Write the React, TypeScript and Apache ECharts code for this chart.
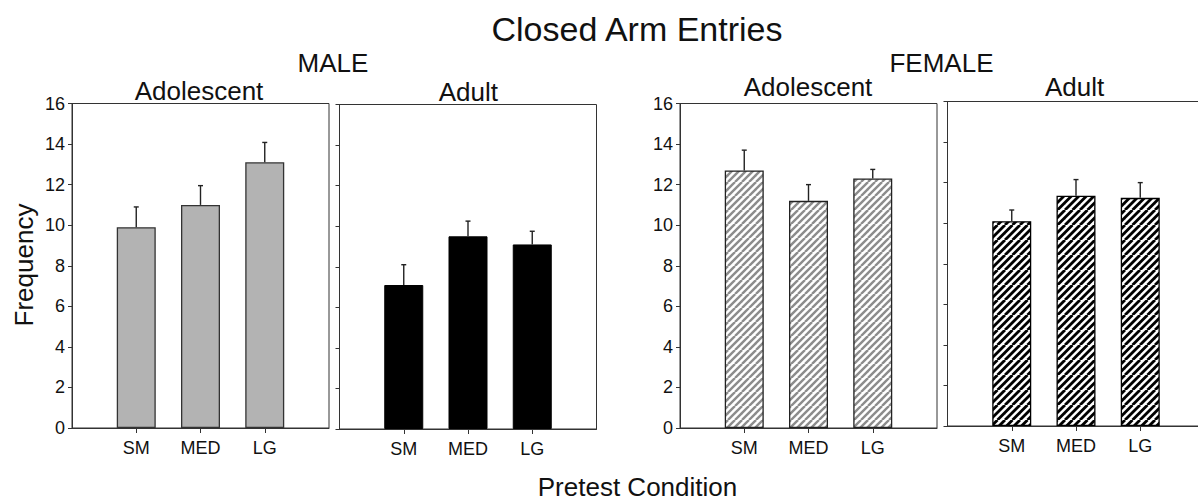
import React, { useEffect, useRef } from 'react';
import * as echarts from 'echarts';

// Pretest conditions and y-axis scale
const categories = ['SM', 'MED', 'LG'];
const yMin = 0;
const yMax = 16;
const yStep = 2;

// Mean closed arm entries and SEM per group
const maleAdolescentMeans = [9.9, 11.0, 13.1];
const maleAdolescentSem = [1.0, 0.95, 0.98];
const maleAdultMeans = [7.1, 9.5, 9.1];
const maleAdultSem = [1.0, 0.75, 0.65];
const femaleAdolescentMeans = [12.7, 11.2, 12.3];
const femaleAdolescentSem = [1.0, 0.8, 0.45];
const femaleAdultMeans = [10.1, 11.35, 11.25];
const femaleAdultSem = [0.55, 0.8, 0.75];

const FONT = '"Liberation Sans", Arial, Helvetica, sans-serif';

function hatch(stroke: string, width: number, period: number) {
  const size = period * 2;
  const c = document.createElement('canvas');
  c.width = size;
  c.height = size;
  const ctx = c.getContext('2d')!;
  ctx.fillStyle = '#ffffff';
  ctx.fillRect(0, 0, size, size);
  ctx.strokeStyle = stroke;
  ctx.lineWidth = width;
  for (let k = -3; k <= 3; k++) {
    ctx.beginPath();
    ctx.moveTo(k * period, size);
    ctx.lineTo(k * period + size, 0);
    ctx.stroke();
  }
  return c;
}

export default function App() {
  const ref = useRef<HTMLDivElement>(null);

  useEffect(() => {
    if (!ref.current) return;
    const chart = echarts.init(ref.current, undefined, { renderer: 'svg' });

    const panels = [
      {
        means: maleAdolescentMeans, sem: maleAdolescentSem,
        grid: { left: 72, top: 103.5, width: 257, height: 324.5 },
        showLabels: true,
        itemStyle: { color: '#b3b3b3', borderColor: '#333', borderWidth: 1.3 },
      },
      {
        means: maleAdultMeans, sem: maleAdultSem,
        grid: { left: 339.5, top: 104.5, width: 257, height: 324.5 },
        showLabels: false,
        itemStyle: { color: '#000', borderColor: '#000', borderWidth: 1 },
      },
      {
        means: femaleAdolescentMeans, sem: femaleAdolescentSem,
        grid: { left: 680, top: 103.5, width: 257, height: 324.5 },
        showLabels: true,
        itemStyle: {
          color: { image: hatch('#8c8c8c', 2.4, 7), repeat: 'repeat' },
          borderColor: '#222', borderWidth: 1.3,
        },
      },
      {
        means: femaleAdultMeans, sem: femaleAdultSem,
        grid: { left: 947.5, top: 101.5, width: 257, height: 324.5 },
        showLabels: false,
        itemStyle: {
          color: { image: hatch('#000000', 2.8, 7.5), repeat: 'repeat' },
          borderColor: '#000', borderWidth: 1.3,
        },
      },
    ];

    const axisColor = '#333';
    const xData = ['', ...categories, ''];

    const grid = panels.map((p) => ({
      ...p.grid,
      show: true,
      borderColor: axisColor,
      borderWidth: 1,
      backgroundColor: 'transparent',
      containLabel: false,
      outerBoundsMode: 'none',
    }));

    const xAxis = panels.map((_, i) => ({
      type: 'category',
      gridIndex: i,
      data: xData,
      boundaryGap: false,
      axisLine: { show: true, lineStyle: { color: axisColor, width: 1 } },
      axisTick: {
        show: true,
        length: 5,
        interval: (index: number) => index >= 1 && index <= categories.length,
        lineStyle: { color: axisColor, width: 1 },
      },
      axisLabel: {
        interval: 0,
        fontSize: 18,
        fontFamily: FONT,
        color: '#111',
        margin: 11,
      },
      splitLine: { show: false },
    }));

    const yAxis = panels.map((p, i) => ({
      type: 'value',
      gridIndex: i,
      min: yMin,
      max: yMax,
      interval: yStep,
      axisLine: { show: true, lineStyle: { color: axisColor, width: 1 } },
      axisTick: { show: true, length: 4, lineStyle: { color: axisColor, width: 1 } },
      axisLabel: {
        show: p.showLabels,
        fontSize: 18,
        fontFamily: FONT,
        color: '#111',
        margin: 7,
      },
      splitLine: { show: false },
    }));

    const series: any[] = [];
    panels.forEach((p, i) => {
      series.push({
        type: 'bar',
        xAxisIndex: i,
        yAxisIndex: i,
        barWidth: 39,
        data: ['-', ...p.means, '-'],
        itemStyle: p.itemStyle,
        silent: true,
      });
      series.push({
        type: 'custom',
        xAxisIndex: i,
        yAxisIndex: i,
        z: 3,
        silent: true,
        encode: { x: 0, y: 1 },
        data: p.means.map((m, k) => [k + 1, m, p.sem[k]]),
        renderItem: (_params: any, api: any) => {
          const x = api.value(0);
          const v = api.value(1);
          const e = api.value(2);
          const p0 = api.coord([x, v]);
          const p1 = api.coord([x, v + e]);
          const style = { stroke: '#222', lineWidth: 1.4 };
          return {
            type: 'group',
            children: [
              { type: 'line', shape: { x1: p0[0], y1: p0[1], x2: p1[0], y2: p1[1] }, style },
              { type: 'line', shape: { x1: p1[0] - 2.5, y1: p1[1], x2: p1[0] + 2.5, y2: p1[1] }, style },
            ],
          };
        },
      });
    });

    const text = (
      str: string, x: number, y: number, size: number, rotation = 0
    ) => ({
      type: 'text',
      x,
      y,
      rotation,
      silent: true,
      style: {
        text: str,
        fontSize: size,
        fontFamily: FONT,
        fill: '#111',
        textAlign: 'center',
        textVerticalAlign: 'middle',
      },
    });

    chart.setOption({
      animation: false,
      backgroundColor: '#ffffff',
      grid,
      xAxis,
      yAxis,
      series,
      graphic: [
        text('Closed Arm Entries', 637, 29, 34),
        text('MALE', 333, 63, 26),
        text('FEMALE', 941.5, 63, 26),
        text('Adolescent', 199, 90.5, 26),
        text('Adult', 468.3, 92, 26),
        text('Adolescent', 808, 87, 26),
        text('Adult', 1074.5, 87, 26),
        text('Frequency', 24, 265, 26, Math.PI / 2),
        text('Pretest Condition', 637.5, 486.5, 26),
      ],
    });

    return () => chart.dispose();
  }, []);

  return (
    <div
      ref={ref}
      style={{ position: 'absolute', left: 0, top: 0, width: 1198, height: 501, background: '#fff' }}
    />
  );
}
